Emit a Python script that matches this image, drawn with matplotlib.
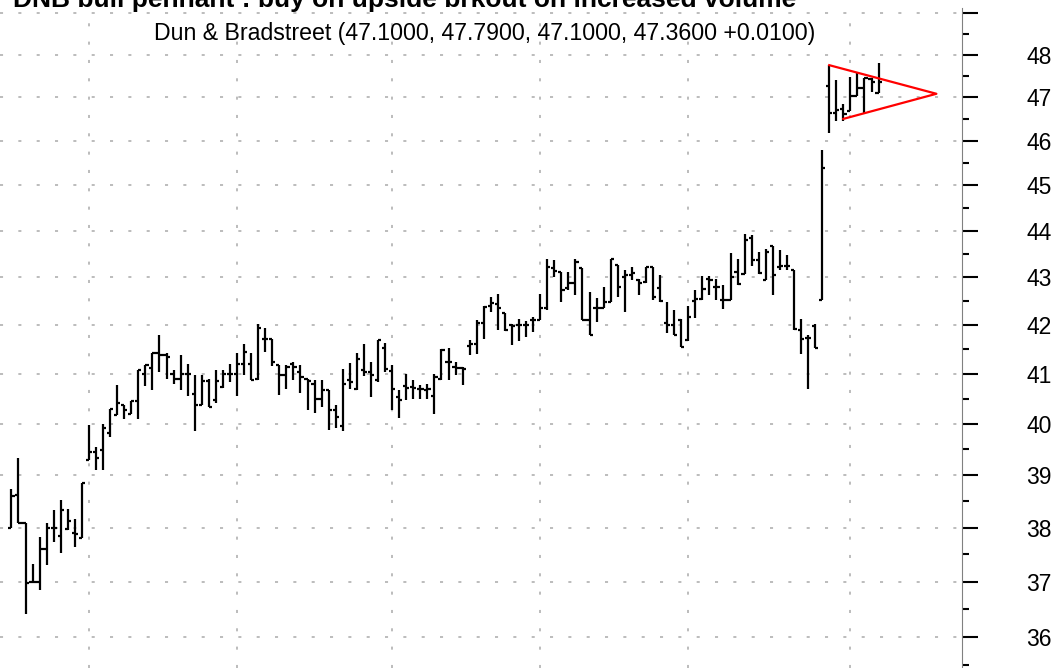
import numpy as np
import matplotlib
matplotlib.use("Agg")
import matplotlib.pyplot as plt
from matplotlib.ticker import FixedLocator, FixedFormatter, NullFormatter

plt.rcParams['font.family'] = ['Liberation Sans', 'DejaVu Sans']

# daily bars, one entry per trading day
opens = [38.00, 38.62, 38.08, 37.00, 37.00, 37.60, 38.00, 37.85, 37.97, 37.90,
         37.81, 39.29, 39.44, 39.48, 39.82, 40.17, 40.38, 40.19, 40.45, 41.00,
         41.12, 41.43, 41.38, 41.00, 40.90, 41.00, 40.60, 40.38, 40.85, 40.47,
         40.73, 41.00, 41.00, 41.20, 41.20, 40.90, 41.72, 41.72, 41.17, 40.97,
         41.20, 41.03, 40.90, 40.80, 40.50, 40.67, 40.28, 39.95, 40.87, 40.70,
         41.07, 41.03, 40.87, 41.52, 41.05, 40.54, 40.75, 40.74, 40.70, 40.68,
         40.55, 40.90, 41.24, 41.14, 41.12, 41.57, 41.60, 42.05, 42.40, 42.43,
         42.24, 42.00, 42.00, 42.00, 42.10, 42.10, 42.35, 43.19, 43.12, 42.77,
         42.87, 43.19, 42.10, 42.35, 42.35, 42.48, 43.26, 43.01, 43.05, 42.94,
         42.90, 43.21, 42.78, 42.05, 42.00, 42.10, 41.69, 42.50, 42.55, 42.97,
         42.80, 42.52, 42.52, 43.12, 43.08, 43.84, 43.37, 42.95, 43.66, 43.22,
         43.24, 43.15, 41.90, 41.74, 41.97, 42.52, 47.25, 46.64, 46.72, 46.67,
         47.02, 47.21, 47.42, 47.10]
highs = [38.74, 39.33, 38.08, 37.33, 37.82, 38.08, 38.34, 38.52, 38.36, 38.16,
         38.85, 39.97, 39.55, 40.00, 40.30, 40.77, 40.38, 40.45, 41.07, 41.17,
         41.43, 41.80, 41.43, 41.07, 41.38, 41.20, 40.97, 40.97, 40.90, 41.08,
         41.08, 41.20, 41.43, 41.60, 41.43, 42.03, 41.93, 41.72, 41.17, 41.17,
         41.24, 41.17, 40.90, 40.87, 40.87, 40.67, 40.38, 41.10, 41.22, 41.43,
         41.60, 41.24, 41.69, 41.62, 41.17, 40.67, 41.00, 40.87, 40.77, 40.80,
         41.00, 41.50, 41.52, 41.24, 41.14, 41.69, 42.10, 42.40, 42.59, 42.64,
         42.24, 42.03, 42.12, 42.08, 42.17, 42.64, 43.40, 43.37, 43.12, 43.12,
         43.40, 43.19, 42.70, 42.57, 42.80, 43.40, 43.26, 43.16, 43.23, 42.96,
         43.21, 43.21, 43.04, 42.48, 42.32, 42.12, 42.39, 42.73, 43.03, 43.03,
         42.97, 42.83, 43.51, 43.40, 43.93, 43.90, 43.55, 43.60, 43.66, 43.59,
         43.47, 43.15, 42.12, 41.79, 42.02, 45.79, 47.75, 47.39, 46.85, 47.48,
         47.56, 47.44, 47.44, 47.79]
lows = [37.99, 38.08, 36.42, 36.97, 36.85, 37.30, 37.74, 37.53, 37.96, 37.63,
        37.81, 39.29, 39.10, 39.10, 39.74, 40.17, 40.10, 40.19, 40.10, 40.75,
        40.68, 41.03, 40.90, 40.80, 40.68, 40.55, 39.86, 40.38, 40.33, 40.42,
        40.71, 40.84, 40.55, 40.97, 40.87, 40.87, 41.45, 41.15, 40.57, 40.70,
        40.87, 40.62, 40.28, 40.22, 40.34, 39.88, 39.92, 39.85, 40.70, 40.67,
        40.95, 40.54, 40.84, 41.03, 40.28, 40.11, 40.47, 40.50, 40.50, 40.50,
        40.20, 40.87, 40.88, 40.97, 40.77, 41.39, 41.40, 41.72, 42.28, 41.90,
        41.88, 41.59, 41.66, 41.76, 41.86, 42.10, 42.31, 43.01, 42.49, 42.73,
        42.63, 42.10, 41.79, 42.07, 42.35, 42.48, 42.59, 42.28, 42.94, 42.63,
        42.87, 42.52, 42.48, 41.83, 41.79, 41.55, 41.66, 42.14, 42.52, 42.63,
        42.52, 42.34, 42.52, 42.83, 43.07, 43.25, 43.08, 42.94, 42.63, 43.15,
        43.15, 41.90, 41.41, 40.69, 41.53, 42.52, 46.18, 46.46, 46.46, 46.67,
        47.02, 46.64, 47.11, 47.10]
closes = [38.60, 38.08, 36.97, 37.00, 37.60, 38.00, 38.00, 38.34, 38.12, 37.88,
          38.85, 39.44, 39.33, 39.92, 40.30, 40.41, 40.28, 40.45, 41.07, 41.17,
          41.43, 41.38, 41.35, 40.90, 41.00, 41.00, 40.38, 40.85, 40.33, 40.85,
          41.00, 41.00, 41.20, 41.45, 40.87, 41.93, 41.72, 41.24, 40.97, 41.14,
          41.14, 40.93, 40.85, 40.50, 40.68, 40.28, 40.14, 40.80, 40.84, 41.31,
          41.03, 40.97, 41.69, 41.10, 40.70, 40.47, 40.72, 40.72, 40.70, 40.70,
          40.93, 41.48, 41.24, 41.12, 41.10, 41.60, 42.05, 42.37, 42.45, 42.36,
          41.90, 41.97, 42.00, 42.00, 42.10, 42.35, 43.23, 43.13, 42.73, 42.87,
          43.33, 42.10, 41.79, 42.35, 42.48, 43.40, 42.80, 43.05, 43.10, 42.87,
          43.21, 42.58, 42.50, 42.00, 41.79, 41.55, 42.16, 42.55, 42.76, 42.94,
          42.80, 42.52, 43.00, 42.85, 43.81, 43.37, 43.10, 43.54, 43.04, 43.24,
          43.24, 41.91, 41.71, 41.74, 41.53, 45.39, 46.64, 46.70, 46.62, 47.02,
          47.21, 47.44, 47.35, 47.36]

month_starts = [11, 32, 54, 75, 96, 119]
price_ticks = list(range(36, 50))
price_labels = [str(p) for p in range(36, 49)] + ['']
half_ticks = [p + 0.5 for p in range(35, 49)]

# pennant outline: upper corner, apex, lower corner
pennant_x = [116, 131.2, 118]
pennant_y = [47.75, 47.08, 46.50]

title = "DNB bull pennant : buy on upside brkout on increased volume"
subtitle = "Dun & Bradstreet (47.1000, 47.7900, 47.1000, 47.3600 +0.0100)"

W, H = 1061, 668
fig = plt.figure(figsize=(W / 100, H / 100), dpi=100)
ax = fig.add_axes([0, 0, 962 / W, 660 / H])

x = np.arange(len(closes))
ax.vlines(x, lows, highs, color='black', lw=1.6, zorder=3)
ax.hlines(opens, x - 0.45, x, color='black', lw=1.6, zorder=3)
ax.hlines(closes, x, x + 0.45, color='black', lw=1.6, zorder=3)
ax.plot(pennant_x, pennant_y, color='red', lw=1.6, zorder=4)

ax.set_yscale('log')
ax.set_ylim(35.456, 49.117)
ax.set_xlim(-1.62, 134.83)

ax.yaxis.tick_right()
ax.yaxis.set_major_locator(FixedLocator(price_ticks))
ax.yaxis.set_major_formatter(FixedFormatter(price_labels))
ax.yaxis.set_minor_locator(FixedLocator(half_ticks))
ax.yaxis.set_minor_formatter(NullFormatter())
ax.tick_params(axis='y', which='major', length=11.5, width=1.5, direction='out',
               pad=35, labelsize=16.5, colors='black')
ax.tick_params(axis='y', which='minor', length=5, width=1.5, direction='out')

ax.set_xticks(month_starts)
ax.tick_params(axis='x', length=0, labelbottom=False)

grid_style = dict(color='#aaaaaa', lw=1.1, linestyle=(0, (2, 10)))
ax.grid(axis='y', which='major', **grid_style)
ax.grid(axis='x', **grid_style)
ax.set_axisbelow(True)

for side in ['top', 'left', 'bottom']:
    ax.spines[side].set_visible(False)
ax.spines['right'].set_color('#808080')
ax.spines['right'].set_linewidth(0.8)

# the heading sits partly above the top edge, as in the original capture
fig.text(405 / W, 1 - 7 / H, title, ha='center', va='baseline',
         fontsize=19, fontweight='bold')
fig.text(484.5 / W, 1 - 40 / H, subtitle, ha='center', va='baseline', fontsize=16.7)

fig.savefig('out.png', dpi=100)
